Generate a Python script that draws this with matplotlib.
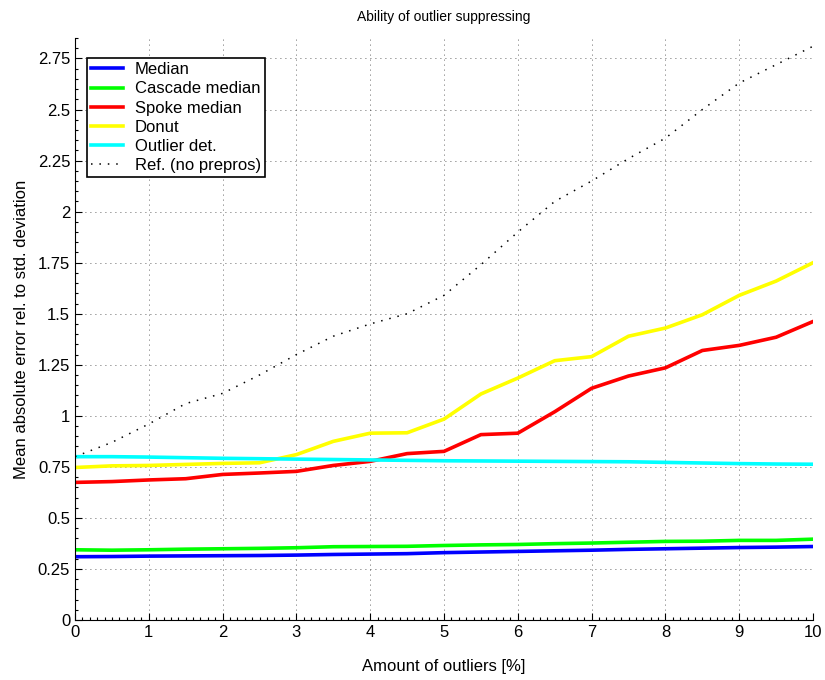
"""Ability of outlier suppressing -- MATLAB-style line chart."""

import numpy as np
import matplotlib
matplotlib.use("Agg")
import matplotlib.pyplot as plt
from matplotlib.ticker import MultipleLocator

plt.rcParams["font.family"] = ["Liberation Sans", "DejaVu Sans"]

outliers = [0, 0.5, 1, 1.5, 2, 2.5, 3, 3.5, 4, 4.5, 5,
            5.5, 6, 6.5, 7, 7.5, 8, 8.5, 9, 9.5, 10]

median = [0.310, 0.311, 0.313, 0.314, 0.315, 0.316, 0.318, 0.321, 0.323, 0.325, 0.330,
          0.333, 0.336, 0.339, 0.342, 0.346, 0.349, 0.352, 0.355, 0.357, 0.360]
cascade = [0.344, 0.342, 0.344, 0.347, 0.349, 0.351, 0.354, 0.359, 0.360, 0.361, 0.365,
           0.368, 0.370, 0.374, 0.377, 0.381, 0.385, 0.386, 0.390, 0.390, 0.396]
spoke = [0.674, 0.678, 0.686, 0.692, 0.713, 0.720, 0.728, 0.757, 0.777, 0.815, 0.826,
         0.908, 0.915, 1.020, 1.135, 1.195, 1.235, 1.320, 1.345, 1.385, 1.462]
donut = [0.747, 0.755, 0.757, 0.762, 0.767, 0.770, 0.810, 0.875, 0.915, 0.917, 0.984,
         1.107, 1.185, 1.270, 1.290, 1.390, 1.430, 1.495, 1.590, 1.660, 1.750]
outlier_det = [0.800, 0.800, 0.798, 0.795, 0.792, 0.790, 0.788, 0.786, 0.784, 0.782, 0.780,
               0.779, 0.778, 0.777, 0.776, 0.775, 0.772, 0.769, 0.766, 0.764, 0.763]
reference = [0.80, 0.87, 0.96, 1.06, 1.11, 1.20, 1.30, 1.39, 1.45, 1.50, 1.59,
             1.74, 1.90, 2.05, 2.15, 2.26, 2.36, 2.50, 2.63, 2.72, 2.81]

fig = plt.figure(figsize=(8.25, 6.8), dpi=100)
ax = fig.add_axes([0.0909, 0.0882, 0.8946, 0.8558])

lw = 2.6
ax.plot(outliers, median, color="#0000ff", lw=lw, label="Median")
ax.plot(outliers, cascade, color="#00ff00", lw=lw, label="Cascade median")
ax.plot(outliers, spoke, color="#ff0000", lw=lw, label="Spoke median")
ax.plot(outliers, donut, color="#ffff00", lw=lw, label="Donut")
ax.plot(outliers, outlier_det, color="#00ffff", lw=lw, label="Outlier det.")
ax.plot(outliers, reference, color="black", lw=1.1, linestyle=(0, (1, 4.5)),
        label="Ref. (no prepros)")

ax.set_xlim(0, 10)
ax.set_ylim(0, 2.85)
ax.xaxis.set_major_locator(MultipleLocator(1))
ax.xaxis.set_minor_locator(MultipleLocator(0.1))
ax.yaxis.set_major_locator(MultipleLocator(0.25))
ax.yaxis.set_minor_locator(MultipleLocator(0.05))
ax.set_yticklabels([f"{v:g}" for v in ax.get_yticks()])
ax.tick_params(which="both", direction="in", labelsize=12, width=0.8)
ax.tick_params(which="major", length=5)
ax.tick_params(which="minor", length=2.5)
ax.spines["top"].set_visible(False)
ax.spines["right"].set_visible(False)
ax.grid(True, which="major", color="black", lw=0.6, linestyle=(0, (1, 5)), alpha=0.8)

ax.set_title("Ability of outlier suppressing", fontsize=10, pad=12)
ax.set_xlabel("Amount of outliers [%]", fontsize=12, labelpad=14)
ax.set_ylabel("Mean absolute error rel. to std. deviation", fontsize=12, labelpad=6)

leg = ax.legend(loc="upper left", bbox_to_anchor=(0.0163, 0.9656), fontsize=12,
                handlelength=1.9, handletextpad=0.7, labelspacing=0.25,
                borderpad=0.25, borderaxespad=0, fancybox=False, framealpha=1)
leg.get_frame().set_edgecolor("black")
leg.get_frame().set_linewidth(1.2)

fig.savefig("out.png", dpi=100)
